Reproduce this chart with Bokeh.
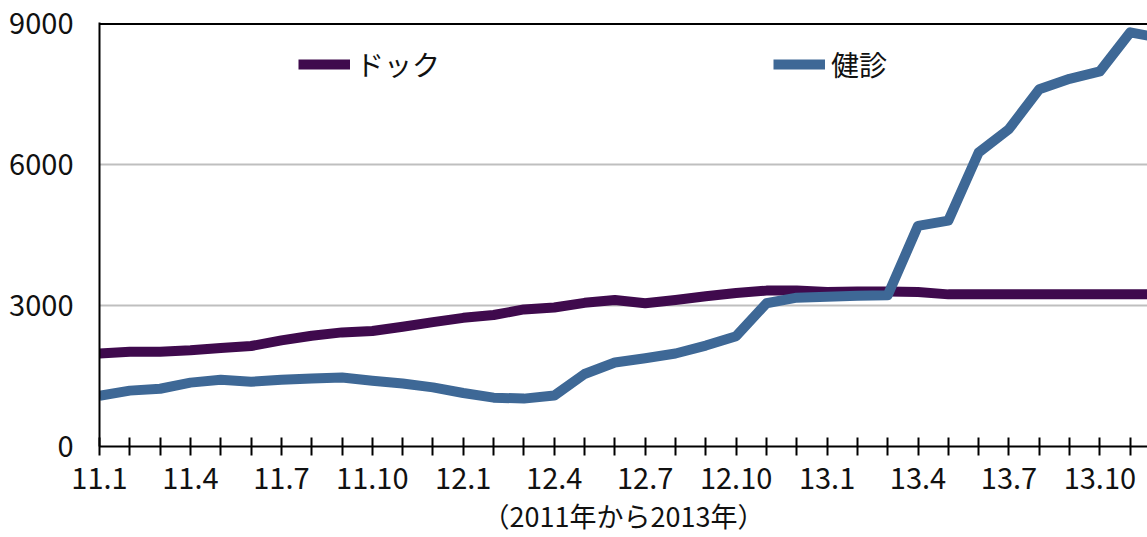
from bokeh.plotting import figure
from bokeh.models import (ColumnDataSource, FixedTicker, Span, Legend, LegendItem, Range1d)
from bokeh.embed import file_html
from bokeh.resources import INLINE

# ---- data ----
months = ["11.1", "11.2", "11.3", "11.4", "11.5", "11.6", "11.7", "11.8", "11.9", "11.10", "11.11", "11.12",
          "12.1", "12.2", "12.3", "12.4", "12.5", "12.6", "12.7", "12.8", "12.9", "12.10", "12.11", "12.12",
          "13.1", "13.2", "13.3", "13.4", "13.5", "13.6", "13.7", "13.8", "13.9", "13.10", "13.11", "13.12"]
dock = [1980, 2020, 2020, 2050, 2100, 2140, 2260, 2360, 2430, 2460, 2550, 2650,
        2740, 2800, 2920, 2960, 3060, 3120, 3050, 3120, 3200, 3270, 3320, 3320,
        3290, 3300, 3300, 3290, 3240, 3240, 3240, 3240, 3240, 3240, 3240, 3240]
kenshin = [1080, 1190, 1230, 1360, 1420, 1380, 1420, 1450, 1470, 1400, 1340, 1260,
           1140, 1040, 1020, 1085, 1545, 1790, 1880, 1980, 2150, 2350, 3050, 3170,
           3190, 3210, 3220, 4700, 4810, 6260, 6760, 7610, 7830, 7990, 8820, 8700]
tick_labels = {0: "11.1", 3: "11.4", 6: "11.7", 9: "11.10", 12: "12.1", 15: "12.4",
               18: "12.7", 21: "12.10", 24: "13.1", 27: "13.4", 30: "13.7", 33: "13.10"}
y_ticks = [0, 3000, 6000, 9000]
series_names = ["ドック", "健診"]
x_title = "（2011年から2013年）"

idx = list(range(len(months)))
src = ColumnDataSource(dict(x=idx, dock=dock, kenshin=kenshin))

FONT = "Noto Sans CJK JP"
PURPLE = "#3F0A4D"
BLUE = "#3E6896"

p = figure(frame_width=1048, frame_height=424, min_border_left=99, min_border_top=22,
           min_border_bottom=91, min_border_right=0,
           x_range=Range1d(0, 34.57), y_range=Range1d(0, 9030),
           output_backend="svg", toolbar_location=None)
p.outline_line_color = None
p.background_fill_color = "white"
p.border_fill_color = "white"

r1 = p.line("x", "dock", source=src, line_width=10, line_color=PURPLE, line_join="round")
r2 = p.line("x", "kenshin", source=src, line_width=10, line_color=BLUE, line_join="round")

# top border line at 9000
p.add_layout(Span(location=9000, dimension="width", line_color="black", line_width=2))

# x axis
xa = p.xaxis[0]
xa.ticker = FixedTicker(ticks=idx)
xa.major_label_overrides = {i: tick_labels.get(i, "") for i in idx}
xa.major_tick_in = 9
xa.major_tick_out = 9
xa.major_tick_line_width = 2
xa.major_tick_line_color = "black"
xa.minor_tick_line_color = None
xa.axis_line_width = 2
xa.axis_line_color = "black"
xa.major_label_text_font = FONT
xa.major_label_text_font_size = "29px"
xa.major_label_text_color = "#111111"
xa.major_label_standoff = 12
xa.axis_label = x_title
xa.axis_label_text_font = FONT
xa.axis_label_text_font_size = "27px"
xa.axis_label_text_font_style = "normal"
xa.axis_label_text_color = "#111111"
xa.axis_label_standoff = 4

# y axis
ya = p.yaxis[0]
ya.ticker = FixedTicker(ticks=y_ticks)
ya.major_tick_in = 0
ya.major_tick_out = 0
ya.minor_tick_line_color = None
ya.axis_line_width = 2
ya.axis_line_color = "black"
ya.major_label_text_font = FONT
ya.major_label_text_font_size = "29px"
ya.major_label_text_color = "#111111"
ya.major_label_standoff = 26

p.xgrid.grid_line_color = None
p.ygrid.ticker = FixedTicker(ticks=[3000, 6000])
p.ygrid.grid_line_color = "#BFBFBF"
p.ygrid.grid_line_width = 2

for name, rend, loc in [(series_names[0], r1, (199, 362)), (series_names[1], r2, (674, 362))]:
    lg = Legend(items=[LegendItem(label=name, renderers=[rend])], location=loc,
                glyph_width=52, glyph_height=20, label_standoff=6,
                label_text_font=FONT, label_text_font_size="28px", label_text_color="#111111",
                padding=0, margin=0, border_line_color=None, background_fill_alpha=0)
    p.add_layout(lg)

open("out.html", "w").write(file_html(p, INLINE))
